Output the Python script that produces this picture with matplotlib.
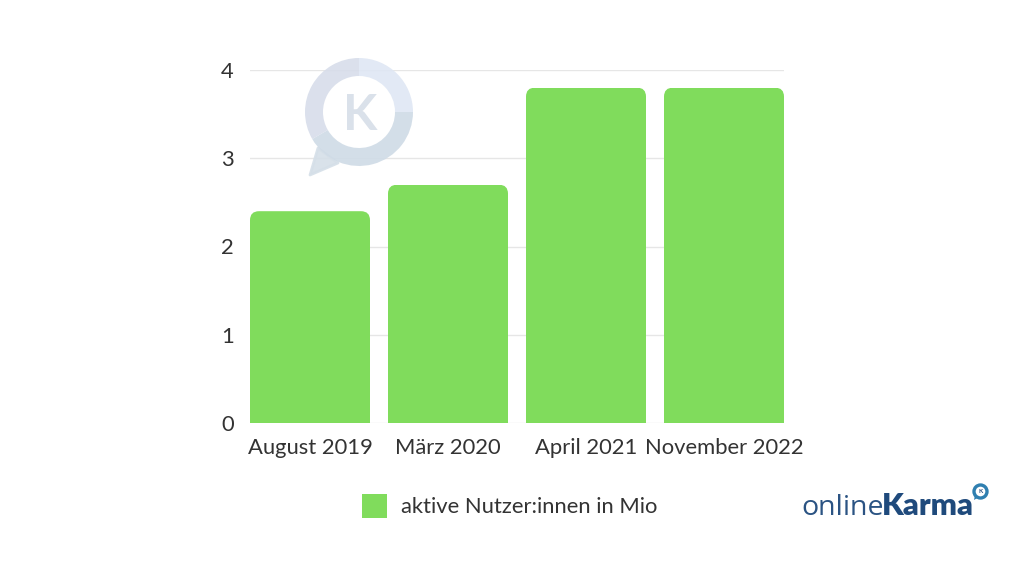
import matplotlib
matplotlib.use("Agg")
import matplotlib.pyplot as plt
from matplotlib.patches import Wedge, Polygon, Circle, PathPatch
from matplotlib.path import Path

plt.rcParams['font.family'] = ['Lato', 'DejaVu Sans']

categories = ["August 2019", "März 2020", "April 2021", "November 2022"]
values = [2.4, 2.7, 3.8, 3.8]
yticks = [0, 1, 2, 3, 4]
series_label = "aktive Nutzer:innen in Mio"
GREEN = "#80DC5C"
TEXT = "#333333"
W, H = 1024, 576

fig = plt.figure(figsize=(W/100, H/100), dpi=100, facecolor="white")
ax = fig.add_axes([250/W, 1-423/H, 534/W, 353/H])
BAR_W = 120/138
ax.set_xlim(-0.5*BAR_W, 3+0.5*BAR_W)
ax.set_ylim(0, 4)

RX, RY = 9/138, 9/88.25
def rounded_top(x, w, h):
    l, r = x-w/2, x+w/2
    verts = [(l, 0), (l, h-RY), (l, h), (l+RX, h), (r-RX, h), (r, h), (r, h-RY), (r, 0), (l, 0)]
    codes = [Path.MOVETO, Path.LINETO, Path.CURVE3, Path.CURVE3, Path.LINETO,
             Path.CURVE3, Path.CURVE3, Path.LINETO, Path.CLOSEPOLY]
    return Path(verts, codes)

bars = ax.bar(range(len(values)), values, width=BAR_W, color=GREEN, label=series_label, zorder=3)
for b, v in zip(bars, values):
    clip = PathPatch(rounded_top(b.get_x()+b.get_width()/2, b.get_width(), v), transform=ax.transData)
    b.set_clip_path(clip)

ax.set_yticks(yticks)
ax.set_xticks(range(len(categories)))
ax.set_xticklabels(categories)
ax.tick_params(axis='both', length=0, labelsize=15.8, labelcolor=TEXT)
ax.tick_params(axis='x', pad=10.5)
ax.tick_params(axis='y', pad=11.5)
ax.grid(axis='y', color="#E6E6E6", lw=1, zorder=0)
ax.set_axisbelow(True)
for s in ax.spines.values():
    s.set_visible(False)

leg = fig.legend(handles=[bars], labels=[series_label], loc='center left',
                 bbox_to_anchor=(355/W, 1-506/H), frameon=False, fontsize=15.8,
                 labelcolor=TEXT, handlelength=1.14, handleheight=1.36,
                 handletextpad=0.64, borderpad=0.3, borderaxespad=0)
leg.legend_handles[0].set_linewidth(0)

# watermark and logo in pixel space
ov = fig.add_axes([0, 0, 1, 1], facecolor="none")
ov.set_xlim(0, W); ov.set_ylim(H, 0); ov.axis('off')
cx, cy, R, w = 359, 112, 54, 18
A = 0.9
ov.add_patch(Polygon([(318, 148), (310, 175), (338, 163)], closed=True, fc="#D5DFE8", ec="#D5DFE8", lw=2, alpha=A, joinstyle='round'))
# y axis is inverted: angles run clockwise from +x on screen
ov.add_patch(Wedge((cx, cy), R, 0, 150, width=w, fc="#CFDBE6", ec="none", alpha=A))
ov.add_patch(Wedge((cx, cy), R, 150, 270, width=w, fc="#D7DDEA", ec="none", alpha=A))
ov.add_patch(Wedge((cx, cy), R, 270, 360, width=w, fc="#DFE7F4", ec="none", alpha=A))
ov.text(cx+1, cy+3, "K", ha='center', va='center', fontsize=36, fontweight='bold', color="#DAE1EA")

NAVY = "#1F4A7C"
ov.text(801, 515, "online", ha='left', va='baseline', fontsize=20.5, fontweight='normal',
        family='Open Sans', color=NAVY, alpha=0.95)
ov.text(882, 515, "Karma", ha='left', va='baseline', fontsize=22.3, fontweight='heavy', color=NAVY)
ov.add_patch(Circle((980.5, 491.5), 6.5, fc="none", ec="#2F7FB0", lw=2.4))
ov.add_patch(Polygon([(975, 495), (974, 500), (979, 497)], closed=True, fc="#2F7FB0", ec="none"))
ov.text(980.5, 491.5, "K", ha='center', va='center', fontsize=4.5, fontweight='bold', color=NAVY)

fig.savefig("out.png", dpi=100, facecolor="white")
